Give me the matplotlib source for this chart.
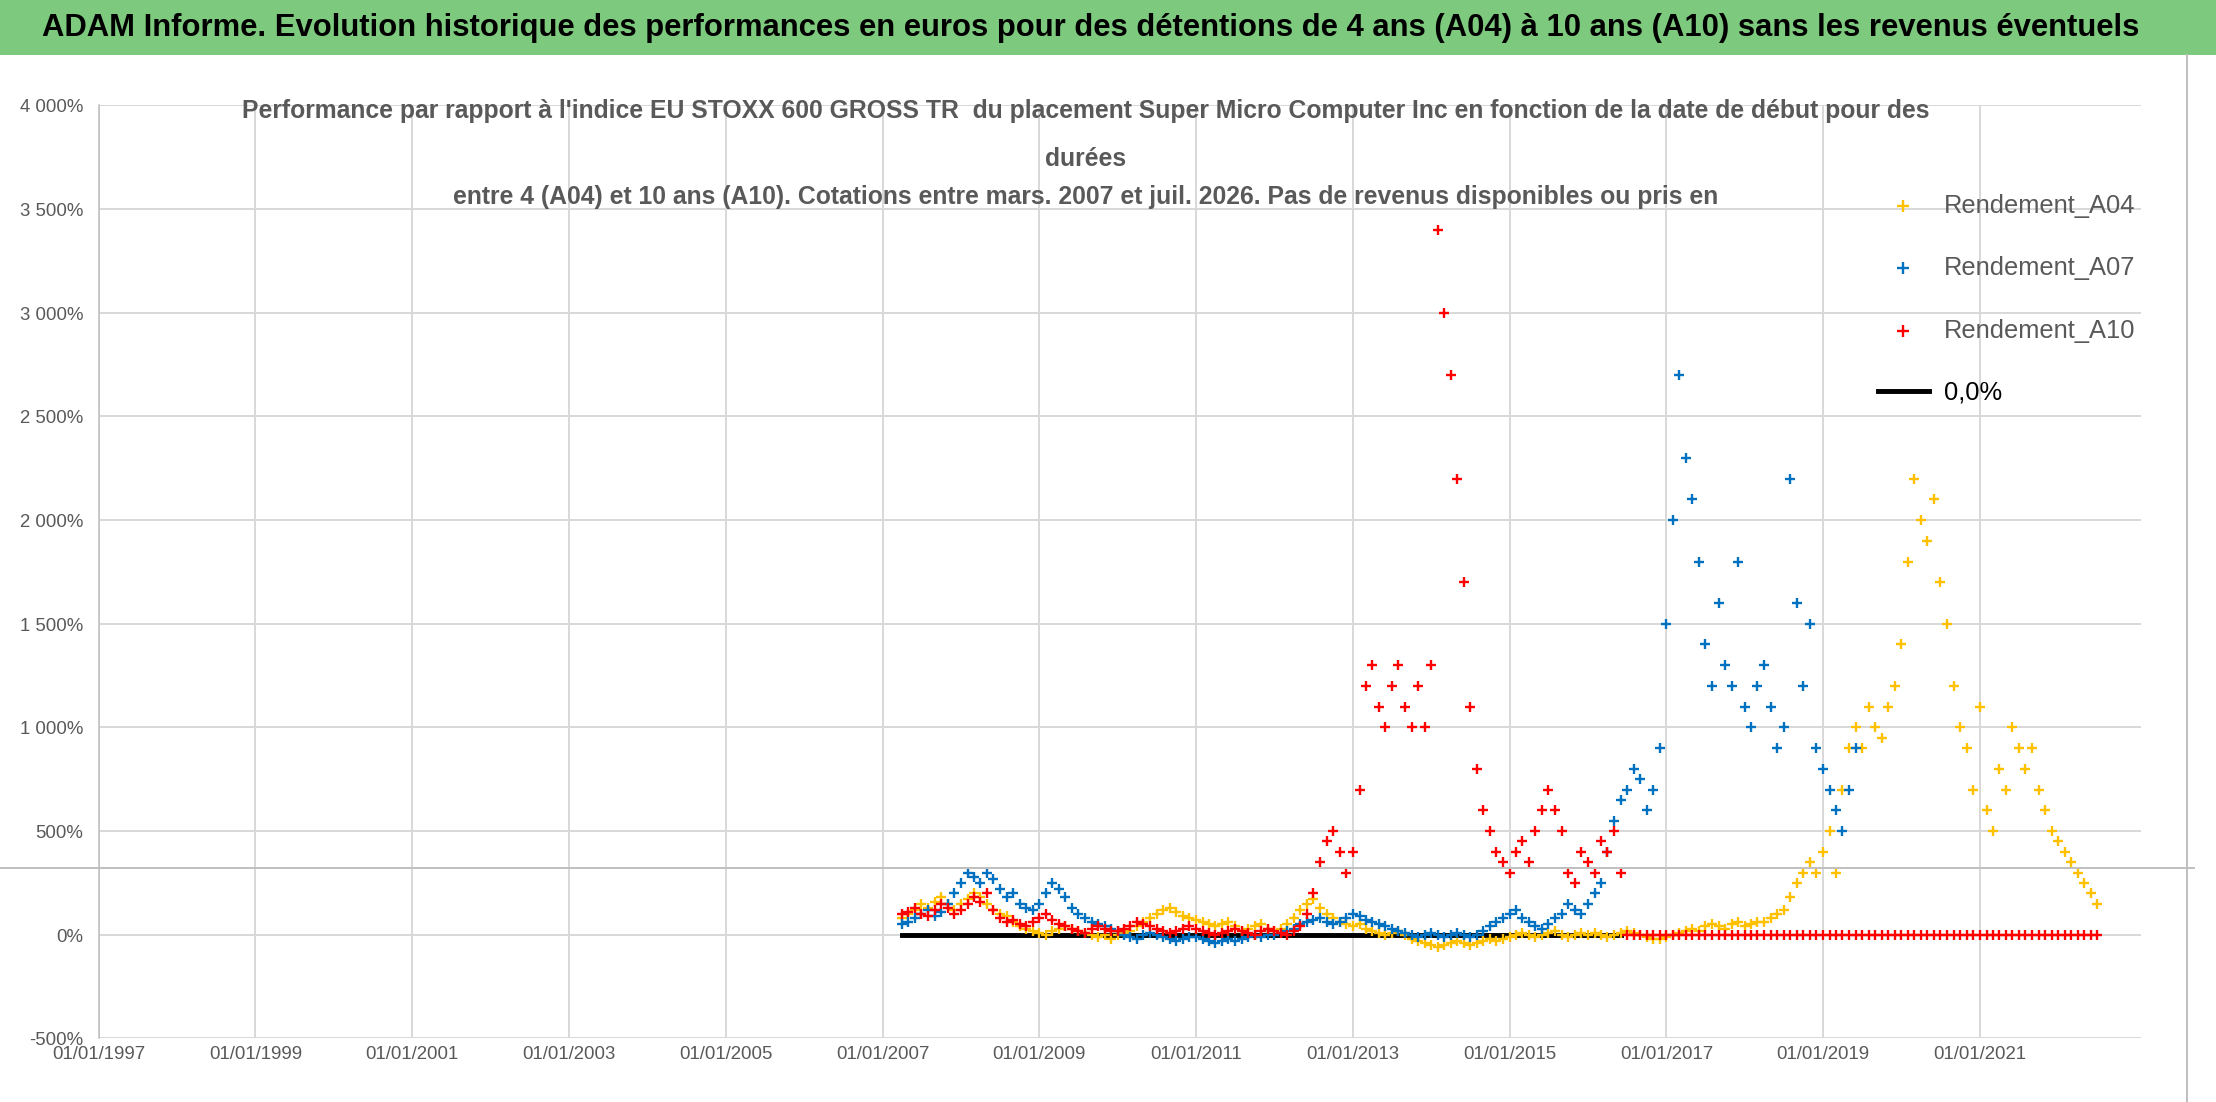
import pandas as pd
import numpy as np
import matplotlib.pyplot as plt
import matplotlib.dates as mdates
from matplotlib.lines import Line2D
from matplotlib.ticker import FuncFormatter

plt.rcParams['font.family'] = ['Liberation Sans', 'DejaVu Sans']

# valeurs mensuelles (%)
a04 = [80, 100, 120, 150, 130, 160, 180, 150, 120,
       150, 170, 200, 180, 150, 120, 100, 90, 60, 40, 30, 20,
       10, 0, 20, 30, 40, 30, 20, 10, 0, -10, 0, -20,
       0, 10, 20, 40, 60, 80, 100, 120, 130, 110, 90, 80,
       70, 60, 50, 40, 50, 60, 40, 20, 30, 40, 50, 30,
       20, 30, 50, 80, 120, 150, 170, 130, 100, 80, 60, 50,
       40, 50, 30, 20, 10, 0, 10, 20, 0, -20, -30, -40,
       -50, -60, -50, -40, -30, -40, -50, -40, -30, -20, -30, -20,
       -10, 0, 10, 0, -10, 0, 10, 20, 0, -10, 0, 10,
       0, 10, 0, -10, 0, 10, 20, 10, 0, -10, -20, -20,
       -10, 0, 10, 20, 30, 20, 40, 50, 40, 30, 50, 60,
       40, 50, 60, 60, 80, 100, 120, 180, 250, 300, 350, 300,
       400, 500, 300, 700, 900, 1000, 900, 1100, 1000, 950, 1100, 1200,
       1400, 1800, 2200, 2000, 1900, 2100, 1700, 1500, 1200, 1000, 900, 700,
       1100, 600, 500, 800, 700, 1000, 900, 800, 900, 700, 600, 500,
       450, 400, 350, 300, 250, 200, 150]
a07 = [50, 60, 80, 100, 120, 90, 110, 150, 200,
       250, 300, 280, 250, 300, 270, 220, 180, 200, 150, 130, 120,
       150, 200, 250, 220, 180, 130, 100, 80, 60, 50, 40, 30,
       20, 0, -10, -20, 0, 10, 0, -10, -20, -30, -20, -10,
       -10, -20, -30, -40, -30, -20, -30, -20, -10, 0, -10, 0,
       0, 10, 20, 30, 50, 60, 70, 80, 60, 50, 60, 80,
       100, 90, 70, 60, 50, 40, 30, 20, 10, 0, -10, 0,
       10, 0, -10, 0, 10, 0, -10, 0, 20, 40, 60, 80,
       100, 120, 80, 60, 40, 30, 50, 80, 100, 150, 120, 100,
       150, 200, 250, 400, 550, 650, 700, 800, 750, 600, 700, 900,
       1500, 2000, 2700, 2300, 2100, 1800, 1400, 1200, 1600, 1300, 1200, 1800,
       1100, 1000, 1200, 1300, 1100, 900, 1000, 2200, 1600, 1200, 1500, 900,
       800, 700, 600, 500, 700, 900]
a10 = [100, 110, 130, 100, 90, 120, 150, 130, 100,
       120, 150, 180, 160, 200, 120, 80, 60, 70, 50, 40, 60,
       80, 100, 70, 50, 40, 30, 20, 10, 30, 40, 30, 20,
       20, 30, 40, 60, 50, 40, 30, 20, 10, 20, 30, 40,
       30, 20, 10, 0, 10, 20, 30, 20, 10, 0, 20, 30,
       20, 10, 0, 20, 40, 100, 200, 350, 450, 500, 400, 300,
       400, 700, 1200, 1300, 1100, 1000, 1200, 1300, 1100, 1000, 1200, 1000,
       1300, 3400, 3000, 2700, 2200, 1700, 1100, 800, 600, 500, 400, 350,
       300, 400, 450, 350, 500, 600, 700, 600, 500, 300, 250, 400,
       350, 300, 450, 400, 500, 300]

d04 = pd.date_range("2007-04-01", periods=len(a04), freq="MS")
d07 = pd.date_range("2007-04-01", periods=len(a07), freq="MS")
d10 = pd.date_range("2007-04-01", periods=len(a10), freq="MS")
d10_zero = pd.date_range("2016-07-01", "2022-07-01", freq="MS")
d_ref = [pd.Timestamp("2007-04-01"), pd.Timestamp("2016-06-01")]

fig = plt.figure(figsize=(15.68, 7.8), dpi=141.33)
fig.patches.append(plt.Rectangle((0, 0.951), 1, 0.049, transform=fig.transFigure,
                                 color="#7DC97E", zorder=0))
fig.text(0.019, 0.975, "ADAM Informe. Evolution historique des performances en euros pour des détentions "
         "de 4 ans (A04) à 10 ans (A10) sans les revenus éventuels",
         ha="left", va="center", fontsize=15.8, fontweight="bold")

ax = fig.add_axes([0.0446, 0.0577, 0.9214, 0.8463])
ax.scatter(d04, a04, marker="+", color="#FFC000", s=25, lw=1.2, label="Rendement_A04", zorder=3)
ax.scatter(d07, a07, marker="+", color="#0070C0", s=25, lw=1.2, label="Rendement_A07", zorder=4)
ax.scatter(d10, a10, marker="+", color="#FF0000", s=25, lw=1.2, label="Rendement_A10", zorder=5)
ax.scatter(d10_zero, np.zeros(len(d10_zero)), marker="+", color="#FF0000", s=25, lw=1.2, zorder=5)
ax.plot(d_ref, [0, 0], color="black", lw=2.5, label="0,0%", zorder=2)

ax.set_xlim(pd.Timestamp("1997-01-01"), pd.Timestamp("2023-01-20"))
ax.set_ylim(-500, 4000)
ax.set_yticks(np.arange(-500, 4001, 500))
ax.yaxis.set_major_formatter(FuncFormatter(lambda v, p: f"{int(v):,}%".replace(",", " ")))
ax.set_xticks([pd.Timestamp(f"{y}-01-01") for y in range(1997, 2022, 2)])
ax.xaxis.set_major_formatter(mdates.DateFormatter("%d/%m/%Y"))
ax.tick_params(colors="#595959", labelsize=9.5, length=0)
ax.tick_params(axis="y", pad=8)
ax.grid(color="#D9D9D9", lw=1)
for s in ax.spines.values():
    s.set_visible(False)
ax.spines["left"].set_visible(True)
ax.spines["left"].set_color("#BFBFBF")

sub = "#595959"
fig.text(0.49, 0.893, "Performance par rapport à l'indice EU STOXX 600 GROSS TR  du placement Super Micro "
         "Computer Inc en fonction de la date de début pour des", ha="center", color=sub,
         fontsize=12.6, fontweight="bold")
fig.text(0.49, 0.849, "durées", ha="center", color=sub, fontsize=12.6, fontweight="bold")
fig.text(0.49, 0.815, "entre 4 (A04) et 10 ans (A10). Cotations entre mars. 2007 et juil. 2026. Pas de "
         "revenus disponibles ou pris en", ha="center", color=sub, fontsize=12.6, fontweight="bold")

leg = ax.legend(loc="upper left", bbox_to_anchor=(0.86, 0.93), frameon=False, fontsize=13,
                labelspacing=1.5, handletextpad=0.6, labelcolor=sub, markerscale=1.3)
leg.get_texts()[3].set_color("black")

fig.add_artist(Line2D([0, 0.99], [0.212, 0.212], transform=fig.transFigure, color="#BFBFBF", lw=1))
fig.add_artist(Line2D([0.987, 0.987], [0, 0.95], transform=fig.transFigure, color="#BFBFBF", lw=1))

plt.savefig("out.png", dpi=141.33)
plt.close()
